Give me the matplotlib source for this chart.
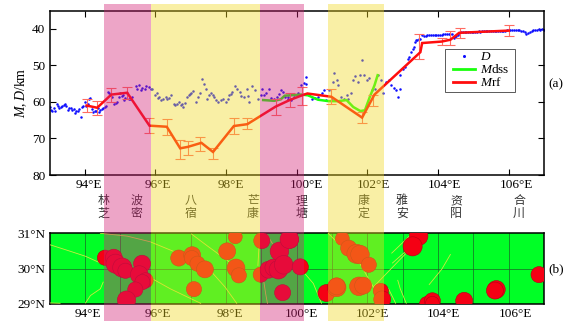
import numpy as np
import matplotlib
matplotlib.use('Agg')
import matplotlib.pyplot as plt
from matplotlib.patches import Rectangle
from matplotlib.transforms import ScaledTranslation
from matplotlib.lines import Line2D

plt.rcParams['font.family'] = ['Liberation Serif', 'DejaVu Serif']
plt.rcParams['mathtext.fontset'] = 'custom'
plt.rcParams['mathtext.rm'] = 'Liberation Serif'
plt.rcParams['mathtext.it'] = 'Liberation Serif:italic'

W, H = 574, 329

D_west = [(93.00,61.3),(93.04,62.2),(93.08,62.4),(93.12,61.8),(93.16,62.5),(93.20,60.5),(93.24,61.2),(93.28,61.8),
 (93.32,61.5),(93.36,61.2),(93.40,60.8),(93.44,60.7),(93.48,61.2),(93.52,62.2),(93.56,61.8),(93.60,61.6),(93.64,62.3),
 (93.68,62.0),(93.72,63.0),(93.76,62.5),(93.80,62.4),(93.84,62.0),(93.88,64.0),(93.92,61.5),(93.96,61.0),(94.00,60.0),
 (94.04,61.0),(94.08,60.5),(94.12,59.2),(94.16,59.0),(94.20,62.0),(94.24,62.8),(94.28,62.5),(94.32,62.5),(94.36,61.8),
 (94.40,62.8),(94.44,62.3),(94.48,62.0),(94.52,61.8),(94.56,61.5),(94.60,61.0)]
D_mid = [(94.65,57.3),(94.68,57.7),(94.72,58.2),(94.78,58.6),(94.82,60.5),(94.87,60.3),(94.92,60.0),(94.96,58.6),(95.01,57.7),
 (95.05,58.4),(95.09,58.2),(95.11,59.5),(95.15,58.8),(95.20,57.7),(95.24,59.2),(95.28,59.1),(95.34,58.6),(95.44,55.7),
 (95.48,56.4),(95.53,55.5),(95.58,56.8),(95.63,56.1),(95.70,56.4),(95.74,55.7),(95.81,55.9),(95.88,56.4),(95.91,56.6),
 (95.98,58.2),(96.03,57.7),(96.07,59.0),(96.10,58.6),(96.15,59.5),(96.22,59.1),(96.29,58.6),(96.33,59.1),(96.38,58.8),(96.43,58.2),
 (96.52,60.6),(96.56,60.8),(96.60,60.5),(96.67,60.0),(96.71,60.9),(96.75,60.6),(96.79,61.4),(96.84,60.3),(96.90,58.6),(96.95,58.2),
 (96.98,57.9),(97.02,57.7),(97.07,57.0),(97.14,60.0),(97.20,58.6),(97.26,57.7),(97.33,53.8),(97.37,55.0),(97.42,56.6),(97.47,59.1),
 (97.52,58.2),(97.56,57.7),(97.62,58.0),(97.66,58.6),(97.71,59.5),(97.77,60.0),(97.85,59.5),(97.92,59.3),(97.99,60.0),(98.04,59.1),
 (98.08,58.2),(98.13,57.9),(98.18,57.3),(98.25,55.7),(98.32,56.6),(98.40,57.3),(98.43,58.5),(98.51,58.6),(98.58,56.6),(98.62,58.4),
 (98.65,60.0),(98.74,55.7),(98.81,56.8),(98.91,59.1),(98.98,58.0),(99.03,56.6),(99.08,58.2),(99.12,57.7),(99.22,56.4),(99.28,58.8),
 (99.36,59.1),(99.45,58.6),(99.50,57.8),(99.55,56.8),(99.62,57.3),(99.66,58.6),(99.74,58.6),(99.75,59.1),(99.85,59.5),(99.92,58.6),
 (100.04,57.7),(100.13,55.5),(100.20,54.9),(100.25,53.2),(100.27,55.0),(100.34,58.2),(100.42,59.1),(100.51,58.8),(100.61,58.6),
 (100.72,57.7),(100.78,56.8),(100.84,59.4),(100.91,56.8),(100.99,59.5),(101.06,52.0),(101.03,54.5),(101.13,54.1),(101.18,55.5),
 (101.25,58.6),(101.35,59.1),(101.41,58.2),(101.46,59.1),(101.55,57.5),(101.60,54.1),(101.65,53.0),(101.73,54.5),(101.79,52.7),
 (101.84,48.6),(101.91,52.7),(101.98,54.1),(102.05,53.6),(102.14,56.8),(102.22,56.4),(102.31,52.7),(102.39,54.1),(102.45,57.7),
 (102.53,54.5),(102.60,54.1),(102.67,55.5),(102.74,56.1),(102.82,56.8),(102.86,58.6),(102.93,56.4)]
D_east = [(102.93,52.7),(103.00,50.9),(103.07,50.5),(103.15,48.2),(103.18,47.7),(103.24,46.4),(103.28,45.6),(103.31,45.0),(103.34,43.6),
 (103.37,43.2),(103.40,43.0),(103.45,42.9),(103.50,42.7),(103.56,41.8),(103.60,41.9),(103.65,41.9),(103.70,41.8),(103.75,41.8),
 (103.80,41.8),(103.85,41.7),(103.90,41.7),(103.95,41.7),(104.00,41.6),(104.05,41.6),(104.10,41.6),(104.15,41.5),(104.20,41.5),
 (104.25,41.4),(104.30,41.4),(104.35,41.4),(104.40,41.3),(104.44,42.4),(104.48,42.2),(104.52,42.0),(104.56,41.6),(104.60,41.1),
 (104.65,41.0),(104.70,41.0),(104.75,41.0),(104.80,41.0),(104.85,40.9),(104.90,40.9),(104.95,40.9),(105.00,40.8),(105.05,40.8),
 (105.10,40.8),(105.15,40.7),(105.20,40.8),(105.25,40.7),(105.30,40.7),(105.35,40.7),(105.40,40.7),(105.45,40.7),(105.50,40.6),
 (105.55,40.6),(105.60,40.6),(105.65,40.7),(105.70,40.6),(105.75,40.6),(105.80,40.5),(105.85,40.5),(105.90,40.5),(105.95,40.4),
 (106.00,40.4),(106.05,40.3),(106.10,40.3),(106.15,40.3),(106.20,40.3),(106.25,40.3),(106.30,40.3),(106.35,40.5),(106.40,40.7),
 (106.45,41.0),(106.50,41.3),(106.55,41.1),(106.60,40.8),(106.65,40.5),(106.70,40.4),(106.75,40.3),(106.80,40.2),(106.85,40.1),
 (106.90,40.2),(106.95,40.1),(107.00,40.2)]
D_lon = [p[0] for p in D_west + D_mid + D_east]
D_depth = [p[1] for p in D_west + D_mid + D_east]

Mdss_lon = [99.05,99.36,99.55,99.66,100.13,100.32,100.6,100.9,101.18,101.41,101.6,101.8,101.93,102.07,102.2,102.29]
Mdss_depth = [59.5,59.7,59.3,58.3,58.0,58.2,59.4,59.8,59.8,59.5,61.4,62.5,62.3,58.6,55.5,52.7]

Mrf_lon = [94.05,94.35,94.75,95.2,95.83,96.32,96.7,96.92,97.3,97.63,98.22,98.6,99.4,99.8,100.15,100.3,100.98,101.85,102.2,103.5,103.55,104.1,104.35,104.6,106.0]
Mrf_depth = [61.0,61.6,58.0,57.5,66.5,66.8,72.7,72.3,71.2,73.7,66.6,66.1,61.3,59.5,58.2,57.7,58.6,64.3,58.0,46.4,43.9,43.5,43.0,41.1,40.5]

Err_lon = [94.05,94.35,94.75,95.2,95.83,96.32,96.7,96.92,97.25,97.63,98.22,98.6,99.4,99.8,100.15,100.98,101.85,102.15,103.45,104.1,104.35,104.63,106.0]
Err_mid = [61.0,61.6,58.0,57.5,66.5,66.9,72.9,72.5,71.5,74.0,66.6,66.0,61.3,59.5,58.4,58.6,64.3,59.6,44.9,43.5,42.5,41.1,40.5]
Err_half = [1.9,1.9,1.9,1.6,2.0,2.1,2.6,1.9,1.8,1.5,2.1,1.5,2.2,1.8,2.5,2.1,1.6,1.6,3.5,1.0,1.9,1.4,1.6]

yticks = [40,50,60,70,80]
lon_ticks = [94,96,98,100,102,104,106]
lon_labels = ['94°E','96°E','98°E','100°E','102°E','104°E','106°E']
lat_ticks = [29,30,31]
lat_labels = ['29°N','30°N','31°N']

bands = [(104,151,'pink'),(151,259.5,'yellow'),(259.5,304,'pink'),(328,383.7,'yellow')]
band_colors = {'pink':(210/255,30/255,117/255),'yellow':(242/255,217/255,30/255)}

Eq_lon = [94.57,94.82,94.87,95.06,95.15,95.62,95.54,95.72,95.63,95.43,95.18,96.66,97.04,97.03,97.19,97.40,97.09,98.26,98.03,98.28,98.36,99.01,98.98,99.2,99.34,99.51,99.48,99.63,99.60,99.81,99.79,100.1,100.84,101.13,101.13,101.29,101.47,101.69,101.79,102.04,101.76,101.88,102.38,102.42,103.45,103.28,103.69,103.84,103.84,104.74,105.65,105.61,106.86]
Eq_lat = [30.31,30.31,30.14,30.03,29.94,30.14,29.83,29.67,29.62,29.41,29.11,30.30,30.38,30.30,30.14,29.98,29.42,30.90,30.49,30.02,29.81,30.79,29.83,29.97,30.03,30.49,29.97,30.11,29.32,30.82,30.83,30.05,29.31,29.47,29.50,30.85,30.58,30.42,30.40,30.11,29.50,29.52,29.37,29.13,30.92,30.63,29.00,29.09,29.02,29.09,29.41,29.38,29.83]
Eq_size = [120,150,190,190,120,150,165,120,120,120,175,135,150,120,120,150,120,100,150,165,120,135,120,150,150,180,180,180,135,150,180,135,150,180,150,100,135,190,180,120,180,150,120,150,180,190,120,135,100,150,165,150,135]

Fault_lon = [[93.0,93.5,94.02,94.44],[94.02,94.16,94.44,94.52],[93.0,93.3],[94.44,95.2,95.85,96.51],[95.9,96.42,96.9,97.28],[97.02,97.5,98.16],[97.55,97.97,98.3],[98.93,98.9],[99.07,99.12,99.17],[99.17,99.31],[100.23,100.47,100.7],[100.89,101.18,101.79,102.17],[102.17,103.08],[102.69,103.21],[102.71,103.21],[102.86,102.93,103.1],[102.6,102.8],[103.75,104.11,104.35]]
Fault_lat = [[30.68,30.52,30.35,30.16],[29.03,29.24,29.43,29.62],[29.03,29.02],[31.0,30.92,30.76,30.49],[29.72,29.43,29.2,29.02],[30.98,30.62,30.14],[29.95,29.48,29.02],[30.6,30.09],[29.62,29.29,29.02],[30.95,30.71],[29.86,29.58,29.02],[31.0,30.71,30.14,29.48],[29.48,30.42],[30.44,30.94],[30.16,30.6],[29.67,29.43,29.02],[29.43,29.02],[29.55,29.99,30.4]]

labels_cn = ['林\n芝','波\n密','八\n宿','芒\n康','理\n塘','康\n定','雅\n安','资\n阳','合\n川']
labels_cn_x = [103.5,136.5,191,253,302,364,402,456,519]

fig = plt.figure(figsize=(W/100, H/100), dpi=100)
L, R = 49.5, 544.0
ax = fig.add_axes([L/W, 1-175/H, (R-L)/W, 164.5/H])
ax2 = fig.add_axes([L/W, 1-304/H, (R-L)/W, 70.7/H])

ax.plot(D_lon, D_depth, ls='none', marker='o', ms=1.8, mew=0, color=(0.05,0.05,1), zorder=2)
ax.plot(Mdss_lon, Mdss_depth, color=(0.1,1,0.05), lw=1.8, zorder=3)
ax.errorbar(Err_lon, Err_mid, yerr=Err_half, ls='none', ecolor=(1,0.42,0.38), elinewidth=0.8, capsize=3.4, capthick=0.8, zorder=4)
ax.plot(Mrf_lon, Mrf_depth, color=(1,0.05,0.05), lw=1.8, zorder=5, solid_joinstyle='miter')
ax.set_xlim(93,107)
ax.set_ylim(80,35)
ax.set_yticks(yticks)
ax.set_ylabel(r'$\mathit{M},\mathit{D}/\mathrm{km}$', fontsize=10, labelpad=2)

ax2.set_facecolor((0,1,0.15))
ax2.scatter(Eq_lon, Eq_lat, s=Eq_size, color=(0.96,0,0.08), edgecolors=(0.7,0,0.08), linewidths=0.4, zorder=4, clip_on=True)
for fx, fy in zip(Fault_lon, Fault_lat):
    ax2.plot(fx, fy, color=(0.8,0.92,0.25), lw=0.6, zorder=3)
for g in range(94,107):
    ax2.axvline(g, color=(0.1,0.4,0.15), lw=0.5, zorder=2)
ax2.axhline(30, color=(0.1,0.4,0.15), lw=0.5, zorder=2)
ax2.set_xlim(93,107)
ax2.set_ylim(29,31)
ax2.set_yticks(lat_ticks)
ax2.set_yticklabels(lat_labels)

for a in (ax, ax2):
    a.set_xticks(lon_ticks)
    a.set_xticklabels(lon_labels)
    for s in a.spines.values():
        s.set_linewidth(1.1)
ax.tick_params(axis='both', direction='in', top=True, right=True, length=4, width=0.8, labelsize=9.5, pad=3)
ax2.tick_params(axis='both', length=0, labelsize=9.5, pad=3)

def shift(labels, offs):
    for lab, o in zip(labels, offs):
        lab.set_transform(lab.get_transform() + ScaledTranslation(o/100, 0, fig.dpi_scale_trans))
shift(ax.get_xticklabels(), [4.5,2.7,5.2,9.7,6.3,6.3,8])
shift(ax2.get_xticklabels(), [3,2,4.2,4.7,5.3,5,7])

ax.add_patch(Rectangle((445/W, 1-92/H), 70/W, 43/H, transform=fig.transFigure, facecolor='white',
                       edgecolor='0.35', linewidth=0.7, zorder=19, clip_on=False))
handles = [Line2D([],[],ls='none',marker='o',ms=2.2,mew=0,color=(0.05,0.05,1)),
           Line2D([],[],color=(0.1,1,0.05),lw=2),
           Line2D([],[],color=(1,0.05,0.05),lw=2)]
leg = ax.legend(handles, [r'$\mathit{D}$', r'$\mathit{M}\mathrm{dss}$', r'$\mathit{M}\mathrm{rf}$'],
                loc='upper left', bbox_to_anchor=((451-L)/(R-L), (175-49)/164.5), borderaxespad=0,
                fontsize=9.5, frameon=False,
                handlelength=1.65, handletextpad=0.4, labelspacing=0.0, borderpad=0.15)
leg.set_zorder(20)

for name, x in zip(labels_cn, labels_cn_x):
    fig.text(x/W, 1-207/H, name, family=['Noto Sans CJK SC','DejaVu Sans'], fontsize=8.6, ha='center', va='center',
             linespacing=1.0, color='0.2')
fig.text(556/W, 1-84/H, '(a)', fontsize=9.5, ha='center', va='center')
fig.text(556/W, 1-269/H, '(b)', fontsize=9.5, ha='center', va='center')

for x0, x1, k in bands:
    fig.add_artist(Rectangle((x0/W, 1-320.7/H), (x1-x0)/W, (320.7-4.3)/H, transform=fig.transFigure,
                             facecolor=band_colors[k], edgecolor='none', alpha=0.4, zorder=10))

fig.savefig('out.png', dpi=100)
